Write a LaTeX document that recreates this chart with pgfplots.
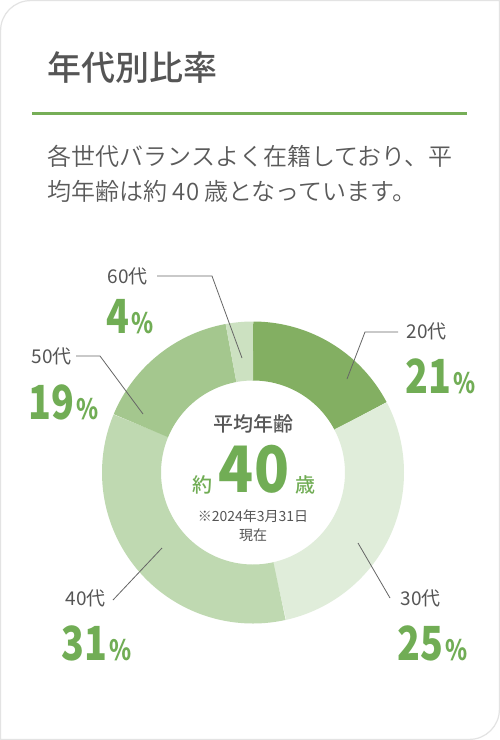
\documentclass[border=0pt]{standalone}
\usepackage{fontspec}
\setmainfont{Noto Sans CJK JP}
\newfontfamily\numfont{Noto Sans CJK JP}[FakeStretch=0.8]
\newfontfamily\bignum{Noto Sans CJK JP}[FakeStretch=0.9]
\newfontfamily\medfont{Noto Sans CJK JP Medium}
\newfontfamily\lightfont{Noto Sans CJK JP DemiLight}
\usepackage{pgfplots}
\pgfplotsset{compat=1.18}
\definecolor{txt}{HTML}{555555}
\definecolor{desc}{HTML}{5A5A5A}
\definecolor{lead}{HTML}{666666}
\definecolor{grn}{HTML}{71AD55}
\definecolor{rule}{HTML}{76AE57}
\definecolor{cA}{HTML}{83AF62}
\definecolor{cB}{HTML}{E0EDDA}
\definecolor{cC}{HTML}{BFD9B1}
\definecolor{cD}{HTML}{A4C78E}
\definecolor{cE}{HTML}{CCE1C1}
\definecolor{frame}{HTML}{E3E3E3}
\newcommand{\fs}[1]{\fontsize{#1}{#1}\selectfont}
% shares of the ring as drawn (percent)
\def\sA{17.3}\def\sB{29.2}\def\sC{34.8}\def\sD{15.8}\def\sE{2.9}
\pgfmathsetmacro\aB{3.6*\sA}
\pgfmathsetmacro\aC{\aB+3.6*\sB}
\pgfmathsetmacro\aD{\aC+3.6*\sC}
\pgfmathsetmacro\aE{\aD+3.6*\sD}
\pgfmathsetmacro\aF{\aE+3.6*\sE}
\newcommand{\pct}[1]{{\numfont\bfseries\fs{47}#1}\hspace{2pt}{\numfont\bfseries\fs{28}\%}}
\begin{document}
\begin{tikzpicture}
\useasboundingbox (0,0) rectangle (500pt,740pt);
\fill[white] (0,0) rectangle (500pt,740pt);
\draw[frame, line width=1.2pt] (0.6pt,0.6pt) -- (469.4pt,0.6pt) arc[start angle=-90,end angle=0,radius=30pt] -- (499.4pt,739.4pt) -- (30.6pt,739.4pt) arc[start angle=90,end angle=180,radius=30pt] -- cycle;
\begin{axis}[at={(0,0)}, anchor=south west, scale only axis, width=500pt, height=740pt,
  xmin=0, xmax=500, ymin=0, ymax=740, y dir=reverse, hide axis, clip=false,
  every node/.append style={inner sep=0pt, outer sep=0pt}]
% donut ring
\addplot[cA, line width=59pt, no marks, domain=0:\aB, samples=100] ({253+121.5*sin(x)},{472.5-121.5*cos(x)});
\addplot[cB, line width=59pt, no marks, domain=\aB:\aC, samples=100] ({253+121.5*sin(x)},{472.5-121.5*cos(x)});
\addplot[cC, line width=59pt, no marks, domain=\aC:\aD, samples=100] ({253+121.5*sin(x)},{472.5-121.5*cos(x)});
\addplot[cD, line width=59pt, no marks, domain=\aD:\aE, samples=100] ({253+121.5*sin(x)},{472.5-121.5*cos(x)});
\addplot[cE, line width=59pt, no marks, domain=\aE:\aF, samples=40] ({253+121.5*sin(x)},{472.5-121.5*cos(x)});
% leader lines
\addplot[lead, line width=0.8pt, no marks] coordinates {(157,276) (212,276) (242,358)};
\addplot[lead, line width=0.8pt, no marks] coordinates {(398,332) (365,332) (347,379)};
\addplot[lead, line width=0.8pt, no marks] coordinates {(76,356) (100,356) (143,414)};
\addplot[lead, line width=0.8pt, no marks] coordinates {(113,600) (162,548)};
\addplot[lead, line width=0.8pt, no marks] coordinates {(390,598) (358,543)};
% title and rule
\node[anchor=base west, text=txt, font=\fs{34}\medfont] at (axis cs:44,80) {年代別比率};
\addplot[rule, line width=3pt, no marks] coordinates {(32,113.5) (467,113.5)};
\node[anchor=base west, text=desc, font=\fs{24}\lightfont] at (axis cs:44,165) {各世代バランスよく在籍しており、平};
\node[anchor=base west, text=desc, font=\fs{24}\lightfont] at (axis cs:44,200) {均年齢は約 40 歳となっています。};
% age labels
\node[anchor=base west, text=txt, font=\fs{19}] at (axis cs:104,283) {60代};
\node[anchor=base west, text=txt, font=\fs{19}] at (axis cs:403,338) {20代};
\node[anchor=base west, text=txt, font=\fs{19}] at (axis cs:28,363) {50代};
\node[anchor=base west, text=txt, font=\fs{19}] at (axis cs:62,605) {40代};
\node[anchor=base west, text=txt, font=\fs{19}] at (axis cs:397,605) {30代};
% percentages
\node[anchor=base west, text=grn] at (axis cs:103,333) {\pct{4}};
\node[anchor=base west, text=grn] at (axis cs:402,393) {\pct{21}};
\node[anchor=base west, text=grn] at (axis cs:25,419) {\pct{19}};
\node[anchor=base west, text=grn] at (axis cs:58,660) {\pct{31}};
\node[anchor=base west, text=grn] at (axis cs:394,660) {\pct{25}};
% centre
\node[anchor=base, text=txt, font=\fs{20}\medfont] at (axis cs:253,431) {平均年齢};
\node[anchor=base, text=grn] at (axis cs:254,492) {\fs{20}\medfont 約\hspace{6pt}{\bignum\bfseries\fs{64}40}\hspace{6pt}\fs{20}\medfont 歳};
\node[anchor=base, text=txt, font=\fs{14}] at (axis cs:253,521) {※2024年3月31日};
\node[anchor=base, text=txt, font=\fs{14}] at (axis cs:253,540) {現在};
\end{axis}
\end{tikzpicture}
\end{document}
